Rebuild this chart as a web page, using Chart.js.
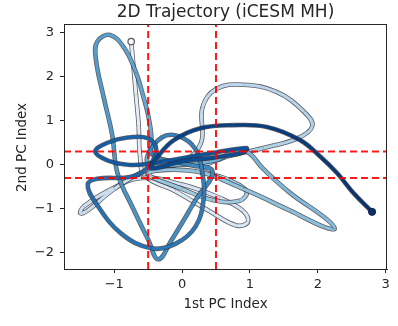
<!DOCTYPE html>
<html>
<head>
<meta charset="utf-8">
<script src="https://cdn.jsdelivr.net/npm/chart.js@4"></script>
<style>
  body { margin: 0; background: #fff; }
  #wrap { width: 398px; height: 326px; }
</style>
</head>
<body>
<div id="wrap"><canvas id="trajChart" width="398" height="326"></canvas></div>
<script>
// trajectory in PC space, in time order
const trajX = [-0.75, -0.72, -0.68, -0.64, -0.62, -0.55, -0.1, 0.4, 0.8, 0.97,
  0.9, 0.55, 0.0, -0.6, -1.1, -1.45, -1.5, -1.4, -1.0, -0.55,
  0.0, 0.28, 0.3, 0.5, 0.9, 1.4, 1.8, 1.92, 1.7, 1.2,
  0.6, 0.3, 0.7, 0.95, 0.85, 0.45, 0.0, -0.5,
  0.2, 0.9, 1.6, 2.1, 2.25, 2.1, 1.6, 1.2, 0.95, 0.7, 0.5, 0.0, -0.5,
  -0.45, -0.49, -0.58, -0.68, -0.85, -1.06, -1.25, -1.27, -1.15, -1.03, -0.95, -0.72,
  -0.5, -0.35, -0.15, 0.2, 0.45, 0.1,
  -0.45, -0.3, -0.05, 0.2, 0.3, 0.32, 0.2, -0.1, -0.45, -0.9, -1.28, -1.39, -1.25, -0.75, -0.5,
  -0.38, -0.5, -0.8, -1.1, -1.28, -1.1, -0.8, -0.5, 0.0, 0.5, 0.95, 0.9, 0.5, 0.0, -0.45,
  -0.35, -0.12, 0.27, 0.76, 1.25, 1.74, 2.04, 2.29, 2.53, 2.8];
const trajY = [2.8, 2.3, 1.6, 0.9, 0.2, -0.25, -0.6, -1.05, -1.38, -1.3,
  -1.05, -0.75, -0.45, -0.3, -0.6, -0.95, -1.1, -1.05, -0.55, -0.15,
  0.05, 0.5, 1.3, 1.72, 1.82, 1.65, 1.2, 0.88, 0.6, 0.38,
  0.15, -0.1, -0.35, -0.6, -0.82, -0.8, -0.55, -0.2,
  -0.15, -0.55, -1.05, -1.42, -1.45, -1.2, -0.65, -0.1, 0.3, 0.25, 0.1, 0.0, 0.05,
  0.5, 1.05, 1.6, 2.1, 2.65, 2.95, 2.8, 2.4, 1.5, 0.68, -0.2, -1.0,
  -1.7, -2.15, -1.7, -0.8, -0.15, 0.0,
  0.25, 0.62, 0.65, 0.35, -0.2, -0.75, -1.4, -1.8, -1.9, -1.56, -0.85, -0.45, -0.32, -0.27, -0.05,
  0.35, 0.6, 0.62, 0.5, 0.3, 0.1, 0.0, 0.02, 0.15, 0.28, 0.38, 0.28, 0.17, 0.08, -0.08,
  0.2, 0.56, 0.83, 0.9, 0.86, 0.56, 0.18, -0.2, -0.65, -1.07];

const vLines = [-0.5, 0.5];
const hLines = [0.3, -0.3];
const xTicks = [-1, 0, 1, 2, 3];
const yTicks = [-2, -1, 0, 1, 2, 3];
const xMin = -1.74, xMax = 3.02;
const yMin = -2.37, yMax = 3.2;

// matplotlib "Blues"
const blues = [[247,251,255],[222,235,247],[198,219,239],[158,202,225],[107,174,214],
  [66,146,198],[33,113,181],[8,81,156],[8,48,107]];
function bluesAt(t) {
  t = Math.max(0, Math.min(1, t)) * (blues.length - 1);
  const i = Math.min(Math.floor(t), blues.length - 2);
  const f = t - i;
  const c = blues[i].map((v, k) => Math.round(v + (blues[i + 1][k] - v) * f));
  return 'rgb(' + c.join(',') + ')';
}

const pts = trajX.map((x, i) => ({ x: x, y: trajY[i] }));
const n = pts.length;
const shade = i => 0.08 + 0.92 * i / (n - 1);

// draw the path in chunks so later parts sit on top of earlier parts
const datasets = [];
const chunk = 6;
for (let s = 0, k = 0; s < n - 1; s += chunk, k++) {
  const lo = s, hi = s + chunk;
  const inChunk = ctx => ctx.p0DataIndex >= lo && ctx.p0DataIndex < hi;
  datasets.push({
    data: pts, showLine: true, pointRadius: 0, tension: 0.4,
    borderWidth: 4.6, borderColor: 'rgba(0,0,0,0)',
    segment: { borderColor: ctx => inChunk(ctx) ? 'rgba(40,40,50,0.75)' : 'rgba(0,0,0,0)' },
    order: 200 - 2 * k
  });
  datasets.push({
    data: pts, showLine: true, pointRadius: 0, tension: 0.4,
    borderWidth: 3, borderColor: 'rgba(0,0,0,0)',
    segment: { borderColor: ctx => inChunk(ctx) ? bluesAt(shade(ctx.p0DataIndex)) : 'rgba(0,0,0,0)' },
    order: 199 - 2 * k
  });
}

vLines.forEach(v => datasets.push({
  data: [{ x: v, y: yMin }, { x: v, y: yMax }], showLine: true, pointRadius: 0,
  borderColor: 'rgba(255,0,0,0.9)', borderWidth: 2, borderDash: [7, 4], order: 2
}));
hLines.forEach(h => datasets.push({
  data: [{ x: xMin, y: h }, { x: xMax, y: h }], showLine: true, pointRadius: 0,
  borderColor: 'rgba(255,0,0,0.9)', borderWidth: 2, borderDash: [7, 4], order: 2
}));

// start and end markers
datasets.push({
  data: [pts[0]], pointRadius: 3.2, pointBackgroundColor: '#f7fbff',
  pointBorderColor: '#555', pointBorderWidth: 1.2, order: 0
});
datasets.push({
  data: [pts[n - 1]], pointRadius: 3.6, pointBackgroundColor: '#08306b',
  pointBorderColor: '#1a1a4a', pointBorderWidth: 1, order: 0
});

const fmt = v => (v < 0 ? '\u2212' + Math.abs(v) : String(v));

const textPlugin = {
  id: 'textPlugin',
  afterDraw(chart) {
    const c = chart.ctx;
    const a = chart.chartArea;
    c.save();
    c.strokeStyle = '#262626';
    c.lineWidth = 1;
    c.strokeRect(a.left + 0.5, a.top + 0.5, a.right - a.left - 1, a.bottom - a.top);
    c.fillStyle = '#262626';
    c.textAlign = 'center';
    c.textBaseline = 'middle';
    c.font = '17px "DejaVu Sans"';
    c.fillText('2D Trajectory (iCESM MH)', (a.left + a.right) / 2, 12.5);
    c.font = '13.5px "DejaVu Sans"';
    c.fillText('1st PC Index', (a.left + a.right) / 2, 304);
    c.translate(22, (a.top + a.bottom) / 2 + 1);
    c.rotate(-Math.PI / 2);
    c.fillText('2nd PC Index', 0, 0);
    c.restore();
  }
};

new Chart(document.getElementById('trajChart'), {
  type: 'scatter',
  data: { datasets: datasets },
  options: {
    responsive: false,
    animation: false,
    events: [],
    layout: { padding: { left: 0, top: 24, right: 11, bottom: 0 } },
    plugins: { legend: { display: false }, tooltip: { enabled: false } },
    scales: {
      x: {
        type: 'linear', min: xMin, max: xMax,
        afterFit: s => { s.height = 57; },
        afterBuildTicks: s => { s.ticks = xTicks.map(v => ({ value: v })); },
        grid: { drawOnChartArea: false, drawTicks: true, tickLength: 4, tickColor: '#262626' },
        border: { display: true, color: '#262626' },
        ticks: { color: '#262626', padding: 4, font: { family: 'DejaVu Sans', size: 13 }, callback: fmt, maxRotation: 0 }
      },
      y: {
        type: 'linear', min: yMin, max: yMax,
        afterFit: s => { s.width = 64; },
        afterBuildTicks: s => { s.ticks = yTicks.map(v => ({ value: v })); },
        grid: { drawOnChartArea: false, drawTicks: true, tickLength: 4, tickColor: '#262626' },
        border: { display: true, color: '#262626' },
        ticks: { color: '#262626', padding: 6, font: { family: 'DejaVu Sans', size: 13 }, callback: fmt }
      }
    }
  },
  plugins: [textPlugin]
});
</script>
</body>
</html>
